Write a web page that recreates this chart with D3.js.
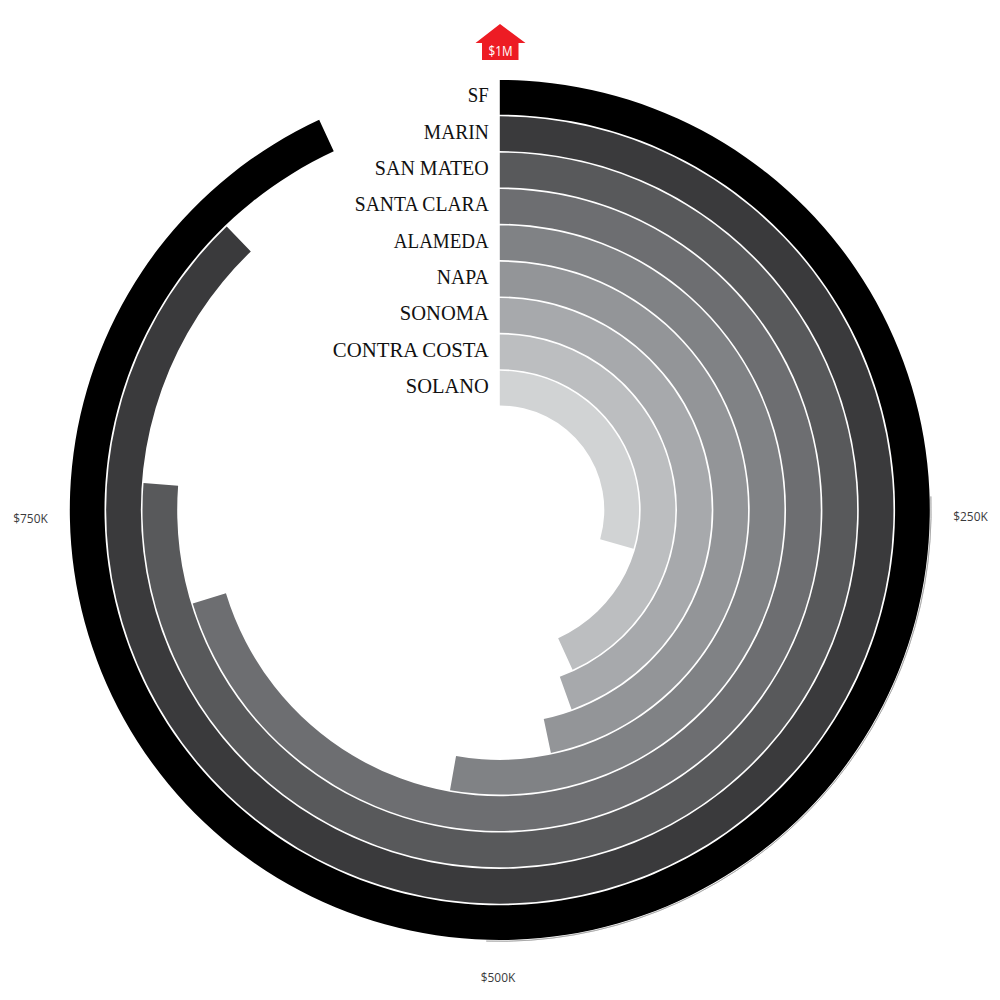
<!DOCTYPE html>
<html><head><meta charset="utf-8">
<script src="https://cdn.jsdelivr.net/npm/d3@7/dist/d3.min.js"></script>
<style>html,body{margin:0;background:#fff}svg{display:block}</style></head>
<body><svg id="c" width="1000" height="1000"></svg>
<script>
const categories=["SF","MARIN","SAN MATEO","SANTA CLARA","ALAMEDA","NAPA","SONOMA","CONTRA COSTA","SOLANO"];
const values=[931,878,762,703,528,467,445,432,295];
const colors=["#000000","#3a3a3c","#58595b","#6d6e71","#808285","#939598","#a7a9ac","#bcbec0","#d1d3d4"];
const tickLabels=["$250K","$500K","$750K"];
const topLabel="$1M";
const labelWidths=[21,65,114,134,95,52,89,156,83];

const cx=499.8,cy=510;
const svg=d3.select("#c");
const g=svg.append("g").attr("transform",`translate(${cx},${cy})`);
const angle=d3.scaleLinear().domain([0,1000]).range([0,2*Math.PI]);
const band=d3.scaleBand().domain(categories).range([430,104.5]).paddingInner(0.045);
const arc=d3.arc().startAngle(0);
g.append("path").attr("fill","none").attr("stroke","#999").attr("stroke-width",0.6)
 .attr("d",d3.arc()({innerRadius:431.3,outerRadius:431.3,startAngle:angle(245),endAngle:angle(505)}));
g.selectAll("path.ring").data(categories).join("path").attr("class","ring")
 .attr("fill",(d,i)=>colors[i])
 .attr("d",(d,i)=>arc({innerRadius:band(d),outerRadius:band(d)+band.bandwidth(),endAngle:angle(values[i])}));
g.selectAll("text.cat").data(categories).join("text").attr("class","cat")
 .attr("x",-11).attr("y",d=>-band(d)-band.bandwidth()/2+4.8)
 .attr("text-anchor","end").attr("font-family","'Liberation Serif',serif").attr("font-size",22).attr("fill","#111")
 .attr("textLength",(d,i)=>labelWidths[i]).attr("lengthAdjust","spacingAndGlyphs")
 .text(d=>d);
const pos=[[970.5,520.7],[498,982],[30.5,522.5]];
svg.selectAll("text.tick").data(tickLabels).join("text").attr("class","tick")
 .attr("x",(d,i)=>pos[i][0]).attr("y",(d,i)=>pos[i][1]).attr("text-anchor","middle")
 .attr("font-family","'Open Sans',sans-serif").attr("font-size",13.5).attr("fill","#3a3a3c")
 .attr("textLength",34.5).attr("lengthAdjust","spacingAndGlyphs").text(d=>d);
svg.append("path").attr("fill","#ed1c24")
 .attr("d",d3.line()([[500,24],[525.5,43],[518.5,43],[518.5,60],[482,60],[482,43],[475.5,43]])+"Z");
svg.append("text").attr("x",500.5).attr("y",55.5).attr("text-anchor","middle")
 .attr("font-family","'Open Sans',sans-serif").attr("font-size",14).attr("fill","#fff")
 .attr("textLength",24).attr("lengthAdjust","spacingAndGlyphs").text(topLabel);
</script></body></html>
